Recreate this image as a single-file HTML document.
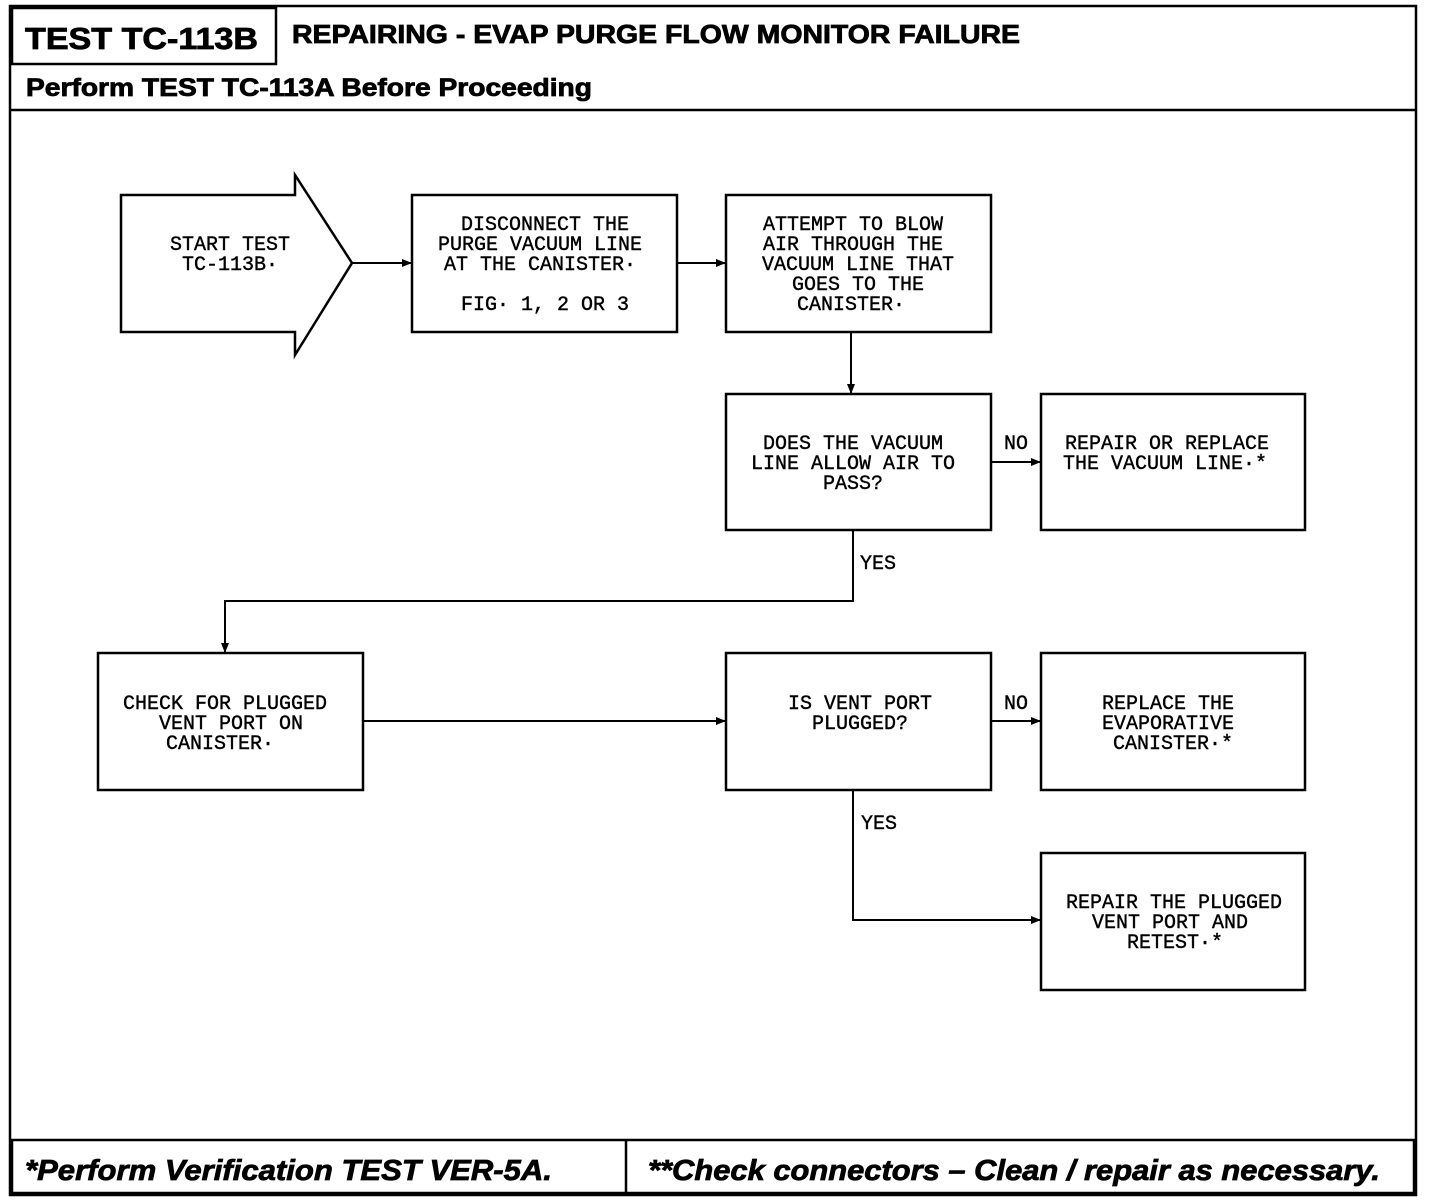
<!DOCTYPE html>
<html><head><meta charset="utf-8"><style>
html,body{margin:0;padding:0;background:#fff;}
svg{display:block}
.t{font-family:"Liberation Mono",monospace;font-size:20px;text-anchor:middle;fill:#000;stroke:#000;stroke-width:0.4}
.h{font-family:"Liberation Sans",sans-serif;font-weight:bold;fill:#000;stroke:#000;stroke-width:0.8}
</style></head><body>
<svg width="1440" height="1202" viewBox="0 0 1440 1202" xmlns="http://www.w3.org/2000/svg">
<defs><marker id="a" markerWidth="10" markerHeight="8" refX="10" refY="4" orient="auto" markerUnits="userSpaceOnUse"><path d="M0,0 L10,4 L0,8 z" fill="#000"/></marker></defs>
<g fill="none" stroke="#000" stroke-width="2.5">
<rect x="10" y="6" width="1406" height="1189"/>
<rect x="12" y="8" width="264" height="56"/>
<line x1="10" y1="110" x2="1416" y2="110"/>
<rect x="12" y="1140" width="1402" height="53"/>
<line x1="626" y1="1140" x2="626" y2="1193"/>
</g>
<text class="h" x="25" y="49" font-size="31" textLength="233" lengthAdjust="spacingAndGlyphs">TEST TC-113B</text>
<text class="h" x="292" y="43" font-size="26" textLength="728" lengthAdjust="spacingAndGlyphs">REPAIRING - EVAP PURGE FLOW MONITOR FAILURE</text>
<text class="h" x="26" y="96" font-size="25" textLength="566" lengthAdjust="spacingAndGlyphs">Perform TEST TC-113A Before Proceeding</text>
<text class="h" x="25" y="1180" font-size="29" font-style="italic" textLength="527" lengthAdjust="spacingAndGlyphs">*Perform  Verification TEST VER-5A.</text>
<text class="h" x="648" y="1180" font-size="29" font-style="italic" textLength="732" lengthAdjust="spacingAndGlyphs">**Check connectors – Clean / repair as necessary.</text>
<g fill="none" stroke="#000" stroke-width="2.5">
<path d="M121,195 L295,195 L295,175 L352,263 L295,355 L295,332 L121,332 Z"/>
<rect x="412" y="195" width="265" height="137"/>
<rect x="726" y="195" width="265" height="137"/>
<rect x="726" y="394" width="265" height="136"/>
<rect x="1041" y="394" width="264" height="136"/>
<rect x="98" y="653" width="265" height="137"/>
<rect x="726" y="653" width="265" height="137"/>
<rect x="1041" y="653" width="264" height="137"/>
<rect x="1041" y="853" width="264" height="137"/>
</g>
<g fill="none" stroke="#000" stroke-width="2" marker-end="url(#a)">
<line x1="352" y1="263" x2="412" y2="263"/>
<line x1="677" y1="263" x2="726" y2="263"/>
<line x1="851" y1="332" x2="851" y2="394"/>
<line x1="991" y1="462" x2="1041" y2="462"/>
<polyline points="853,530 853,601 225,601 225,653"/>
<line x1="363" y1="721" x2="726" y2="721"/>
<line x1="991" y1="721" x2="1041" y2="721"/>
<polyline points="853,790 853,920 1041,920"/>
</g>
<g class="t">
<text x="230" y="250">START TEST</text><text x="230" y="270">TC-113B·</text>
<text x="545" y="230">DISCONNECT THE</text><text x="540" y="250">PURGE VACUUM LINE</text><text x="540" y="270">AT THE CANISTER·</text><text x="545" y="310">FIG· 1, 2 OR 3</text>
<text x="853" y="230">ATTEMPT TO BLOW</text><text x="853" y="250">AIR THROUGH THE</text><text x="858" y="270">VACUUM LINE THAT</text><text x="858" y="290">GOES TO THE</text><text x="851" y="310">CANISTER·</text>
<text x="853" y="449">DOES THE VACUUM</text><text x="853" y="469">LINE ALLOW AIR TO</text><text x="853" y="489">PASS?</text>
<text x="1167" y="449">REPAIR OR REPLACE</text><text x="1165" y="469">THE VACUUM LINE·*</text>
<text x="225" y="709">CHECK FOR PLUGGED</text><text x="231" y="729">VENT PORT ON</text><text x="220" y="749">CANISTER·</text>
<text x="860" y="709">IS VENT PORT</text><text x="860" y="729">PLUGGED?</text>
<text x="1168" y="709">REPLACE THE</text><text x="1168" y="729">EVAPORATIVE</text><text x="1173" y="749">CANISTER·*</text>
<text x="1174" y="908">REPAIR THE PLUGGED</text><text x="1170" y="928">VENT PORT AND</text><text x="1175" y="948">RETEST·*</text>
<text x="1016" y="449">NO</text><text x="1016" y="709">NO</text>
<text x="878" y="569">YES</text><text x="879" y="829">YES</text>
</g>
</svg>
</body></html>
